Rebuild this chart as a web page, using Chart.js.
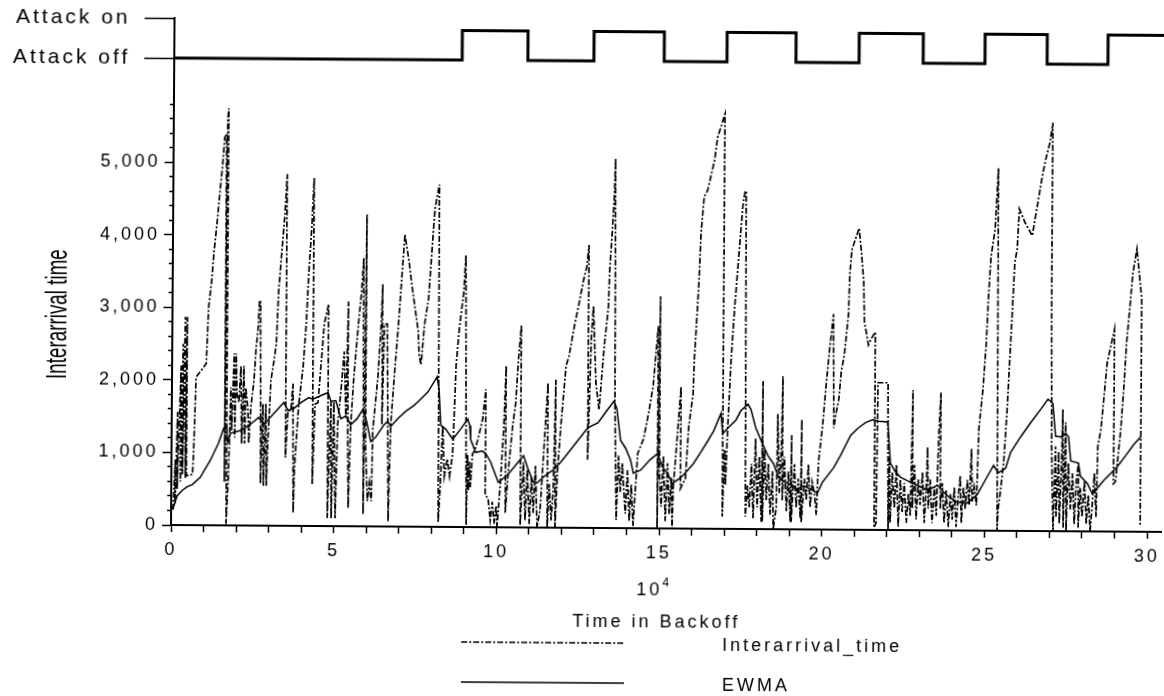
<!DOCTYPE html>
<html>
<head>
<meta charset="utf-8">
<title>Interarrival time and EWMA over backoff time</title>
<script src="https://cdn.jsdelivr.net/npm/chart.js@4.4.1/dist/chart.umd.min.js"></script>
<style>
  html, body { margin: 0; padding: 0; background: #fff; }
  #page { position: relative; width: 1164px; height: 696px; overflow: hidden; background: #fff; }
  /* the printed figure sits slightly tilted on the page */
  #figure { position: absolute; left: 0; top: 0; width: 1164px; height: 696px;
            transform: rotate(0.4deg); transform-origin: 171px 525px; }
  #attackCanvas { position: absolute; left: 0; top: 0; }
  #mainCanvas { position: absolute; left: 0; top: 100px; }
  .txt { position: absolute; font-family: 'Liberation Sans', Arial, sans-serif; font-size: 18px;
         letter-spacing: 3px; color: #000; white-space: nowrap; line-height: 1; }
  .centered { transform: translate(-50%, -50%); }
  #yTitle { left: 55px; top: 315px; font-family: 'Liberation Sans Narrow', 'Liberation Sans', sans-serif;
            font-size: 30px; letter-spacing: 0; }
  #xExp sup { font-size: 12px; letter-spacing: 0; position: relative; top: -2px; }
  #legendMarks { position: absolute; left: 0; top: 0; }
</style>
</head>
<body>
<div id="page">
  <div id="figure">
    <canvas id="attackCanvas" width="1164" height="100"></canvas>
    <canvas id="mainCanvas" width="1164" height="596"></canvas>
    <div id="yTitle" class="txt">Interarrival time</div>
    <div id="xExp" class="txt centered" style="left:653px;top:585px;">10<sup>4</sup></div>
    <div id="xTitle" class="txt centered" style="left:657px;top:618px;">Time in Backoff</div>
    <svg id="legendMarks" width="1164" height="696"></svg>
    <div id="legendText"></div>
  </div>
</div>
<script>
// ---- attack state (top strip) ----
const attackSwitchTimes = [0, 8.85, 10.87, 12.90, 15.06, 16.99, 19.11, 21.05, 23.02, 24.92, 26.83, 28.70, 30.43];
const attackLevels      = [0, 0.74, 0,    0.74,  0,     0.74,  0,     0.74,  0,     0.74,  0,     0.74,  0.74];
const attackTickValues  = [0, 1];
const attackTickLabels  = ['Attack off', 'Attack on'];

// ---- axis ticks ----
const xTickValues = Array.from({ length: 31 }, (_, i) => i);          // 0..30 (x 10^4)
const xTickLabels = ['0', '5', '10', '15', '20', '25', '30'];          // every fifth tick
const yTickValues = Array.from({ length: 30 }, (_, i) => i * 200);    // 0..5800
const yTickLabels = ['0', '1,000', '2,000', '3,000', '4,000', '5,000']; // every 1,000

// ---- Interarrival_time samples: [time in backoff (x 10^4), interarrival time] ----
const interarrivalSamples = [
  [0.06,210],[0.12,900],[0.12,300],[0.18,1560],[0.18,500],[0.28,2200],[0.28,600],[0.34,2500],[0.34,700],[0.40,2870],
  [0.43,650],[0.46,2870],[0.46,680],[0.65,700],[0.68,1030],[0.74,2040],[0.89,2130],[1.05,2230],[1.11,3000],[1.20,3380],
  [1.26,3750],[1.35,4160],[1.44,4620],[1.51,4960],[1.57,5350],[1.63,5400],[1.63,600],[1.66,5600],[1.69,5750],[1.69,20],
  [1.75,650],[1.81,1900],[1.84,1310],[1.91,2370],[1.94,1210],[1.97,2370],[2.00,1800],[2.06,1700],[2.12,2200],[2.15,1130],
  [2.21,2200],[2.24,1130],[2.27,1900],[2.34,1590],[2.37,1130],[2.43,1640],[2.52,2000],[2.58,2450],[2.64,2730],[2.67,3100],
  [2.71,3100],[2.74,580],[2.80,1680],[2.83,550],[2.89,1680],[2.92,550],[2.95,1080],[3.04,2000],[3.14,2300],[3.20,2510],
  [3.26,3240],[3.35,3790],[3.44,4300],[3.50,4850],[3.50,940],[3.57,1590],[3.66,1590],[3.72,1960],[3.75,180],[3.78,800],
  [3.90,1680],[4.03,2200],[4.12,2830],[4.18,3470],[4.27,4160],[4.33,4800],[4.33,580],[4.40,1680],[4.49,1700],[4.58,2230],
  [4.67,2790],[4.80,3060],[4.80,110],[4.89,1720],[4.92,110],[4.98,1720],[5.04,110],[5.10,1400],[5.20,1900],[5.29,2410],
  [5.35,1500],[5.41,3100],[5.41,1400],[5.44,250],[5.50,1400],[5.59,2070],[5.72,2790],[5.81,3240],[5.87,3700],[5.90,170],
  [5.96,4300],[5.96,1130],[6.03,350],[6.09,600],[6.15,350],[6.18,1330],[6.33,2070],[6.42,2790],[6.46,3340],[6.46,1400],
  [6.52,2790],[6.61,2790],[6.67,70],[6.73,1400],[6.82,2000],[6.95,2790],[7.04,3420],[7.13,4030],[7.26,3660],[7.35,3340],
  [7.44,3060],[7.56,2690],[7.59,2370],[7.65,2230],[7.75,2790],[7.87,3150],[7.96,3790],[8.05,4390],[8.18,4720],[8.21,70],
  [8.27,600],[8.33,1400],[8.39,700],[8.48,940],[8.55,700],[8.64,1000],[8.67,1400],[8.73,2230],[8.82,2730],[8.95,3240],
  [9.01,3750],[9.07,30],[9.10,1000],[9.13,500],[9.16,900],[9.19,550],[9.25,1000],[9.35,1100],[9.44,1260],[9.56,1500],
  [9.65,1900],[9.65,440],[9.74,400],[9.81,100],[9.87,350],[9.93,50],[9.99,300],[10.02,0],[10.11,580],[10.21,1400],
  [10.27,2230],[10.27,200],[10.36,800],[10.48,1400],[10.57,1720],[10.64,2270],[10.73,2790],[10.73,30],[10.82,900],[10.88,100],
  [10.94,800],[11.01,50],[11.07,700],[11.13,200],[11.19,850],[11.25,0],[11.34,240],[11.44,1040],[11.56,2000],[11.56,0],
  [11.62,600],[11.68,100],[11.74,500],[11.80,2040],[11.80,0],[11.87,800],[11.96,1400],[12.11,2230],[12.20,2370],[12.36,2790],
  [12.48,3060],[12.63,3420],[12.73,3610],[12.79,3900],[12.79,940],[12.88,2600],[12.94,3060],[13.03,2000],[13.13,1630],[13.28,2510],
  [13.40,3060],[13.43,3560],[13.50,4070],[13.56,4580],[13.59,5100],[13.62,1720],[13.68,110],[13.74,1000],[13.80,500],[13.86,900],
  [13.89,660],[13.96,200],[14.02,800],[14.08,100],[14.14,600],[14.20,30],[14.26,500],[14.33,1030],[14.51,1240],[14.66,1600],
  [14.79,1960],[14.94,2790],[14.94,0],[15.00,3200],[15.00,800],[15.06,300],[15.12,1000],[15.19,100],[15.25,900],[15.31,200],
  [15.37,700],[15.40,0],[15.43,580],[15.55,1320],[15.65,1960],[15.65,550],[15.80,690],[15.89,1400],[16.02,1860],[16.05,2320],
  [16.11,2830],[16.17,3340],[16.23,4070],[16.32,4580],[16.42,4660],[16.63,5080],[16.72,5400],[16.94,5720],[16.94,170],[17.00,1100],
  [17.03,600],[17.09,1400],[17.18,2320],[17.28,3060],[17.40,3790],[17.46,4160],[17.52,4500],[17.58,4660],[17.61,4660],[17.65,170],
  [17.71,600],[17.77,300],[17.83,900],[17.89,150],[17.95,1250],[18.01,300],[18.07,1000],[18.14,100],[18.17,2040],[18.17,100],
  [18.23,1100],[18.29,400],[18.35,900],[18.41,200],[18.48,800],[18.51,0],[18.60,300],[18.63,1590],[18.69,500],[18.75,1200],
  [18.78,2110],[18.78,400],[18.84,1000],[18.91,250],[18.97,800],[19.03,100],[19.06,1300],[19.06,100],[19.15,900],[19.21,300],
  [19.27,700],[19.34,150],[19.37,1520],[19.37,100],[19.46,700],[19.52,400],[19.58,900],[19.64,300],[19.70,650],[19.77,500],
  [19.83,200],[19.89,940],[20.01,1450],[20.10,1960],[20.20,2450],[20.32,2970],[20.35,1400],[20.41,1590],[20.50,1800],[20.57,2180],
  [20.66,2410],[20.78,2970],[20.81,3520],[20.87,3860],[21.09,4160],[21.18,3750],[21.24,3420],[21.27,2870],[21.40,2550],[21.49,2640],
  [21.61,2730],[21.61,30],[21.67,100],[21.70,2030],[22.01,2030],[22.04,0],[22.07,1000],[22.10,100],[22.16,800],[22.23,300],
  [22.29,900],[22.35,50],[22.41,700],[22.47,250],[22.53,650],[22.60,100],[22.66,500],[22.72,200],[22.78,1930],[22.78,300],
  [22.84,900],[22.90,150],[22.96,700],[23.02,350],[23.09,800],[23.15,100],[23.21,600],[23.24,1150],[23.27,300],[23.33,700],
  [23.39,100],[23.46,600],[23.52,200],[23.58,1300],[23.64,1900],[23.64,300],[23.70,650],[23.76,100],[23.82,550],[23.89,50],
  [23.95,500],[24.01,150],[24.07,600],[24.13,50],[24.19,450],[24.25,760],[24.29,100],[24.35,600],[24.41,300],[24.47,700],
  [24.53,350],[24.59,1130],[24.62,400],[24.68,600],[24.75,350],[24.81,1400],[24.93,1960],[25.02,2590],[25.08,3240],[25.15,3790],
  [25.27,4160],[25.36,5000],[25.39,0],[25.42,300],[25.48,520],[25.58,940],[25.67,1630],[25.79,2790],[25.88,3700],[25.95,3890],
  [26.01,4440],[26.19,4250],[26.41,4070],[26.56,4480],[26.71,4900],[26.81,5130],[26.93,5350],[27.02,5630],[27.02,3380],[27.05,1170],
  [27.11,0],[27.17,1170],[27.20,200],[27.27,1100],[27.30,100],[27.36,900],[27.39,1680],[27.42,50],[27.48,1500],[27.51,0],
  [27.57,940],[27.64,300],[27.70,800],[27.76,100],[27.82,700],[27.88,940],[27.88,50],[27.94,600],[28.00,200],[28.07,700],
  [28.13,100],[28.19,500],[28.25,0],[28.31,350],[28.37,800],[28.43,200],[28.47,1170],[28.56,1400],[28.65,1860],[28.74,2320],
  [28.87,2600],[28.96,2790],[28.96,660],[29.02,690],[29.17,1400],[29.27,2070],[29.33,2590],[29.42,3060],[29.51,3560],[29.63,3900],
  [29.70,3600],[29.79,3200],[29.79,70]
];

// ---- EWMA samples: [time in backoff (x 10^4), smoothed interarrival time] ----
const ewmaSamples = [
  [0.06,230],[0.18,400],[0.34,480],[0.49,530],[0.65,560],[0.89,660],[1.20,900],[1.44,1130],[1.60,1340],[1.69,1360],
  [1.72,1150],[1.81,1270],[2.12,1310],[2.43,1400],[2.67,1490],[2.83,1400],[3.04,1500],[3.44,1700],[3.57,1590],[3.75,1620],
  [3.97,1700],[4.21,1770],[4.33,1750],[4.58,1800],[4.80,1840],[4.89,1720],[5.04,1730],[5.20,1480],[5.35,1520],[5.50,1400],
  [5.69,1480],[5.87,1610],[5.99,1450],[6.12,1170],[6.27,1230],[6.52,1400],[6.64,1450],[6.73,1380],[6.95,1490],[7.19,1590],
  [7.41,1660],[7.56,1720],[7.87,1860],[8.15,2070],[8.21,1900],[8.27,1400],[8.42,1350],[8.64,1210],[8.88,1350],[9.10,1490],
  [9.16,1400],[9.19,1210],[9.35,1030],[9.56,1050],[9.68,1000],[9.81,900],[10.05,620],[10.33,720],[10.57,850],[10.82,990],
  [10.97,800],[11.13,620],[11.25,620],[11.50,720],[11.74,800],[11.96,900],[12.36,1130],[12.79,1380],[13.10,1450],[13.34,1600],
  [13.59,1750],[13.68,1650],[13.80,1210],[13.96,1100],[14.11,940],[14.20,760],[14.42,800],[14.72,950],[14.94,1030],[15.09,850],
  [15.25,760],[15.40,620],[15.65,700],[15.86,800],[16.05,900],[16.26,1050],[16.48,1210],[16.66,1350],[16.88,1590],[16.94,1310],
  [17.09,1390],[17.34,1500],[17.49,1630],[17.71,1720],[17.80,1650],[17.95,1400],[18.17,1170],[18.35,1000],[18.51,900],[18.66,720],
  [18.81,660],[19.03,620],[19.24,550],[19.43,600],[19.64,560],[19.86,500],[20.01,650],[20.35,850],[20.57,1030],[20.87,1300],
  [21.09,1400],[21.33,1480],[21.55,1520],[21.73,1500],[22.01,1490],[22.10,920],[22.26,800],[22.41,730],[22.72,660],[23.02,600],
  [23.24,550],[23.55,620],[23.85,480],[24.16,390],[24.47,380],[24.78,500],[25.02,700],[25.27,900],[25.42,800],[25.64,860],
  [25.79,1080],[26.10,1300],[26.41,1500],[26.71,1680],[26.93,1820],[27.08,1760],[27.17,1310],[27.33,1300],[27.48,1350],[27.57,1300],
  [27.64,970],[27.88,940],[27.94,760],[28.16,660],[28.31,520],[28.47,600],[28.65,700],[28.87,800],[29.08,900],[29.33,1050],
  [29.57,1200],[29.79,1310]
];

// ---- layout / style ----
const X_MIN = 0, X_MAX = 30.43;       // backoff time axis (x 10^4)
const Y_MIN = 0, Y_MAX = 5860;        // interarrival axis
const AXIS_LEFT = 171;                // width reserved left of the plot
const INK = '#000';
const FONT_FAMILY = "'Liberation Sans', Arial, sans-serif";

const toPoints = pairs => pairs.map(([x, y]) => ({ x, y }));
const asTicks = values => values.map(v => ({ value: v }));
const clearScalePadding = s => { s.paddingLeft = 0; s.paddingRight = 0; s.paddingTop = 0; s.paddingBottom = 0; };

// widen canvas text a little, like the printed labels
const letterSpacing = px => ({
  id: 'letterSpacing',
  beforeLayout(chart) { chart.ctx.letterSpacing = px; },
  beforeDraw(chart) { chart.ctx.letterSpacing = px; }
});

Chart.defaults.color = INK;
Chart.defaults.font.family = FONT_FAMILY;

// ---- top strip: attack on / off ----
new Chart(document.getElementById('attackCanvas'), {
  type: 'line',
  data: {
    datasets: [{
      label: 'Attack',
      data: attackSwitchTimes.map((t, i) => ({ x: t, y: attackLevels[i] })),
      stepped: true,
      borderColor: INK,
      borderWidth: 3,
      pointRadius: 0,
      fill: false
    }]
  },
  options: {
    responsive: false,
    animation: false,
    events: [],
    layout: { padding: { top: 18, right: 3, bottom: 0, left: 0 } },
    plugins: { legend: { display: false }, tooltip: { enabled: false } },
    scales: {
      x: { type: 'linear', min: X_MIN, max: X_MAX, display: false },
      y: {
        type: 'linear', min: -1.05, max: 1,
        afterBuildTicks: s => { s.ticks = asTicks(attackTickValues); },
        afterFit: s => { s.width = AXIS_LEFT; clearScalePadding(s); },
        ticks: {
          autoSkip: false, padding: 14, color: INK,
          font: { family: FONT_FAMILY, size: 21 },
          callback: v => attackTickLabels[attackTickValues.indexOf(v)] || ''
        },
        grid: { drawOnChartArea: false, tickLength: 30, tickWidth: 1.5, tickColor: INK },
        border: { display: true, color: INK, width: 2 }
      }
    }
  },
  plugins: [letterSpacing('3px')]
});

// ---- main plot ----
const mainChart = new Chart(document.getElementById('mainCanvas'), {
  type: 'line',
  data: {
    datasets: [
      {
        label: 'Interarrival_time',
        data: toPoints(interarrivalSamples),
        borderColor: INK,
        borderWidth: 1.7,
        borderDash: [6, 2, 2, 2],
        pointRadius: 0,
        fill: false,
        tension: 0
      },
      {
        label: 'EWMA',
        data: toPoints(ewmaSamples),
        borderColor: INK,
        borderWidth: 1.5,
        pointRadius: 0,
        fill: false,
        tension: 0
      }
    ]
  },
  options: {
    responsive: false,
    animation: false,
    events: [],
    layout: { padding: { top: 0, right: 3, bottom: 0, left: 0 } },
    plugins: { legend: { display: false }, tooltip: { enabled: false } },
    scales: {
      x: {
        type: 'linear', min: X_MIN, max: X_MAX,
        afterBuildTicks: s => { s.ticks = asTicks(xTickValues); },
        afterFit: s => { s.height = 171; clearScalePadding(s); },
        ticks: {
          autoSkip: false, maxRotation: 0, padding: 7, color: INK,
          font: { family: FONT_FAMILY, size: 18 },
          callback: v => (v % 5 === 0 ? xTickLabels[v / 5] : '')
        },
        grid: { drawOnChartArea: false, tickLength: 7, tickWidth: 1.5, tickColor: INK },
        border: { display: true, color: INK, width: 2 }
      },
      y: {
        type: 'linear', min: Y_MIN, max: Y_MAX,
        afterBuildTicks: s => { s.ticks = asTicks(yTickValues); },
        afterFit: s => { s.width = AXIS_LEFT; clearScalePadding(s); },
        ticks: {
          autoSkip: false, padding: 4, color: INK,
          font: { family: FONT_FAMILY, size: 18 },
          callback: v => (v % 1000 === 0 ? yTickLabels[v / 1000] : '')
        },
        grid: {
          drawOnChartArea: false, tickLength: 9, tickWidth: 1.5, tickColor: INK,
          // short marks for the 200-step ticks, full marks at each 1,000
          tickBorderDash: ctx => (ctx.tick && ctx.tick.value % 1000 === 0) ? [] : [0, 5, 4, 40]
        },
        border: { display: true, color: INK, width: 2 }
      }
    }
  },
  plugins: [letterSpacing('3px')]
});

// ---- legend: line sample + series name, one row per dataset ----
(function buildLegend() {
  const svg = document.getElementById('legendMarks');
  const holder = document.getElementById('legendText');
  const rows = [640, 680];
  mainChart.data.datasets.forEach((ds, i) => {
    const y = rows[i];
    const line = document.createElementNS('http://www.w3.org/2000/svg', 'line');
    line.setAttribute('x1', 462); line.setAttribute('x2', 625);
    line.setAttribute('y1', y); line.setAttribute('y2', y);
    line.setAttribute('stroke', ds.borderColor);
    line.setAttribute('stroke-width', ds.borderWidth);
    if (ds.borderDash) line.setAttribute('stroke-dasharray', ds.borderDash.join(' '));
    svg.appendChild(line);
    const label = document.createElement('div');
    label.className = 'txt';
    label.textContent = ds.label;
    label.style.left = '723px';
    label.style.top = (y - 8) + 'px';
    holder.appendChild(label);
  });
})();

// ---- tall, narrow axis title ----
(function fitYTitle() {
  const el = document.getElementById('yTitle');
  const k = 130 / el.offsetWidth;
  el.style.transform = 'translate(-50%, -50%) rotate(-90deg) scaleX(' + k.toFixed(3) + ')';
})();
</script>
</body>
</html>
